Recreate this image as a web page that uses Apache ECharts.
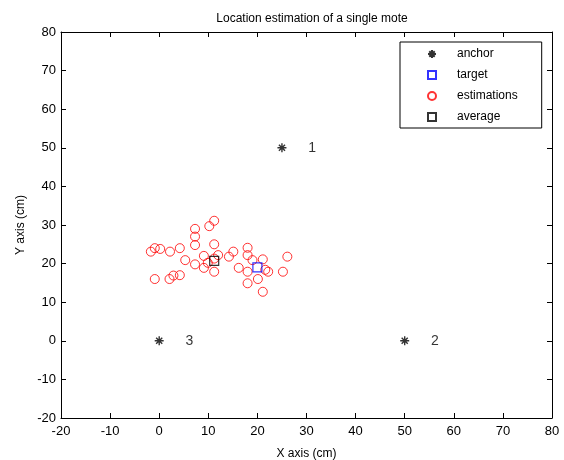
<!DOCTYPE html>
<html>
<head>
<meta charset="utf-8">
<title>Location estimation</title>
<script src="https://cdn.jsdelivr.net/npm/echarts@6/dist/echarts.min.js"></script>
<style>
  html, body { margin: 0; padding: 0; background: #fff; }
  #myChart { width: 564px; height: 460px; }
</style>
</head>
<body>
<div id="myChart"></div>
<script>
// 数据 data
var axisTicks = [-20, -10, 0, 10, 20, 30, 40, 50, 60, 70, 80];

var anchorX = [25, 50, 0];
var anchorY = [50, 0, 0];
var anchorNames = ['1', '2', '3'];

var targetX = [20];
var targetY = [19];

var estX = [11.2, 10.2, 7.3, 7.3, 7.3, -1.7, -0.9, 0.2, 2.2, 4.2, 11.2, 5.3, 7.3, 9.1, 9.1, 11.2, 9.9, 11.2, 12.0, 14.2,
            15.1, 18.0, 18.0, 19.0, 21.1, 26.1, 16.2, 18.0, 20.1, 18.0, 21.1, 22.2, 25.2, -0.9, 2.1, 2.9, 4.2, 21.6];
var estY = [31.1, 29.7, 29.0, 27.0, 24.8, 23.1, 24.0, 23.8, 23.1, 24.0, 25.0, 20.9, 19.8, 22.0, 18.9, 17.9, 20.2, 21.3, 22.2, 21.8,
            23.1, 24.1, 22.2, 20.9, 21.1, 21.8, 18.9, 17.9, 16.0, 14.9, 12.7, 17.9, 17.9, 16.0, 16.0, 16.9, 17.0, 18.4];

var avgX = [11.2];
var avgY = [20.7];

function pairs(xs, ys) {
  return xs.map(function (x, i) { return [x, ys[i]]; });
}

var FONT = 'Liberation Sans, Arial, sans-serif';
// 星号 asterisk / 空心方块 hollow square
var starPath = 'path://M5,0L5,10M0,5L10,5M1.6,1.6L8.4,8.4M8.4,1.6L1.6,8.4';
var squarePath = 'path://M0,0L10,0L10,10L0,10Z';

var myChart = echarts.init(document.getElementById('myChart'));

function mainAxis(pos, name, nameGap) {
  return {
    type: 'value',
    position: pos,
    min: axisTicks[0],
    max: axisTicks[axisTicks.length - 1],
    interval: 10,
    name: name,
    nameLocation: 'middle',
    nameGap: nameGap,
    nameTextStyle: { color: '#000', fontSize: 12, fontFamily: FONT },
    axisLine: { show: true, onZero: false, lineStyle: { color: '#000', width: 1 } },
    axisTick: { show: true, inside: true, length: 5, lineStyle: { color: '#000' } },
    axisLabel: { color: '#000', fontSize: 13, fontFamily: FONT, margin: pos === 'bottom' ? 7 : 5 },
    splitLine: { show: false }
  };
}

function mirrorAxis(pos) {
  // 上/右侧镜像刻度 mirrored ticks only
  return {
    type: 'value',
    position: pos,
    min: axisTicks[0],
    max: axisTicks[axisTicks.length - 1],
    interval: 10,
    axisLine: { show: true, onZero: false, lineStyle: { color: '#000', width: 1 } },
    axisTick: { show: true, inside: true, length: 5, lineStyle: { color: '#000' } },
    axisLabel: { show: false },
    splitLine: { show: false }
  };
}

myChart.setOption({
  animation: false,
  backgroundColor: '#fff',
  textStyle: { fontFamily: FONT },
  title: {
    text: 'Location estimation of a single mote',
    left: 307,
    textAlign: 'center',
    top: 8,
    textStyle: { fontSize: 12, fontWeight: 'normal', color: '#000', fontFamily: FONT }
  },
  grid: { left: 61, right: 12, top: 32, bottom: 42, outerBoundsMode: 'none' },
  legend: {
    orient: 'vertical',
    left: 400,
    top: 42,
    padding: [5, 24, 4, 27],
    itemWidth: 40,
    itemHeight: 8,
    itemGap: 7,
    borderColor: '#000',
    borderWidth: 1,
    backgroundColor: '#fff',
    textStyle: { color: '#000', fontSize: 12, fontFamily: FONT, lineHeight: 14 },
    data: ['anchor', 'target', 'estimations', 'average']
  },
  xAxis: [mainAxis('bottom', 'X axis (cm)', 30), mirrorAxis('top')],
  yAxis: [mainAxis('left', 'Y axis (cm)', 34), mirrorAxis('right')],
  series: [
    {
      name: 'anchor',
      type: 'scatter',
      symbol: starPath,
      symbolSize: 9,
      itemStyle: { color: 'transparent', borderColor: '#000', borderWidth: 1.4 },
      label: {
        show: true,
        position: 'right',
        distance: 21,
        color: '#000',
        fontSize: 14,
        fontFamily: FONT,
        formatter: function (p) { return anchorNames[p.dataIndex]; }
      },
      data: pairs(anchorX, anchorY),
      z: 3
    },
    {
      name: 'target',
      type: 'scatter',
      symbol: squarePath,
      symbolSize: 9,
      itemStyle: { color: 'transparent', borderColor: '#0000ff', borderWidth: 1.2 },
      data: pairs(targetX, targetY),
      z: 4
    },
    {
      name: 'estimations',
      type: 'scatter',
      symbol: 'circle',
      symbolSize: 9,
      itemStyle: { color: 'transparent', borderColor: '#ff0000', borderWidth: 1 },
      data: pairs(estX, estY),
      z: 2
    },
    {
      name: 'average',
      type: 'scatter',
      symbol: squarePath,
      symbolSize: 9,
      itemStyle: { color: 'transparent', borderColor: '#000', borderWidth: 1.2 },
      data: pairs(avgX, avgY),
      z: 4
    }
  ]
});
</script>
</body>
</html>
